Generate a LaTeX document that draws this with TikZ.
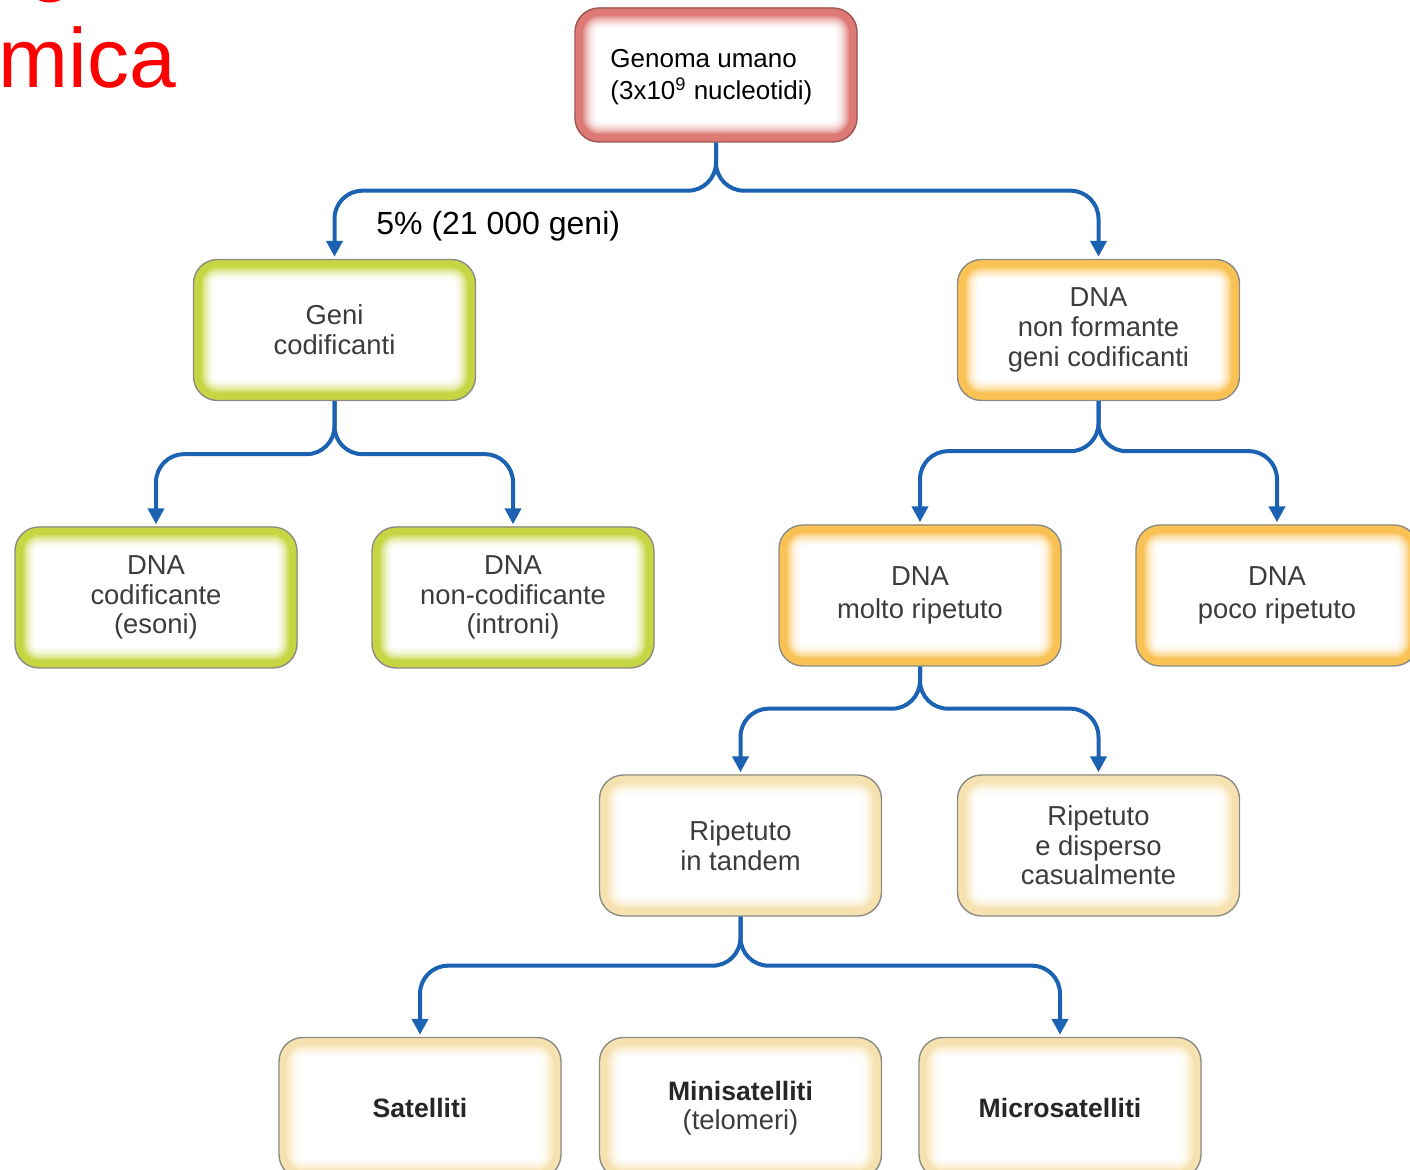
\documentclass[tikz,border=0pt]{standalone}
\usepackage{fontspec}
\setmainfont{Liberation Sans}
\usetikzlibrary{arrows.meta}

\definecolor{linkblue}{RGB}{28,98,178}
\definecolor{rimred}{RGB}{222,122,118}
\definecolor{rimgreen}{RGB}{198,214,66}
\definecolor{rimorange}{RGB}{250,194,84}
\definecolor{rimcream}{RGB}{246,226,176}
\definecolor{edgegray}{RGB}{140,140,132}
\definecolor{labelgray}{RGB}{60,60,60}
\definecolor{titlered}{RGB}{255,0,0}

\newcommand{\boxfont}{\fontsize{13.7pt}{14.8pt}\selectfont}
\newcommand{\wideboxfont}{\fontsize{13.7pt}{16.5pt}\selectfont}
\newcommand{\boldboxfont}{\fontsize{13.3pt}{14.8pt}\selectfont\bfseries}

\begin{document}
\begin{tikzpicture}[x=0.5pt,y=-0.5pt,
  rimlayers/.style={path picture={
    \foreach \i in {0,...,12}{
      \pgfmathsetmacro\w{24-1.6*\i}
      \pgfmathtruncatemacro\s{min(100,(\i/10)^2*100)}
      \draw[#1!\s, line width=\w pt, rounded corners=12pt]
        (path picture bounding box.south west) rectangle (path picture bounding box.north east);}
  }},
  box/.style={rectangle, rounded corners=12pt, draw=edgegray, line width=0.7pt,
    fill=white, minimum width=141pt, minimum height=70.5pt, inner sep=0pt,
    align=center, text=labelgray, font=\boxfont, rimlayers=#1},
  conn/.style={draw=linkblue, line width=2pt, rounded corners=14pt, shorten >=1pt,
    -{Triangle[length=8pt,width=8pt]}},
]
\useasboundingbox (0,0) rectangle (1410,1170);

% heading, partly outside the page
\node[text=titlered, font=\fontsize{42pt}{50pt}\selectfont, anchor=base west, inner sep=0pt] (titleg) at (27,-14) {g};
\node[text=titlered, font=\fontsize{42pt}{50pt}\selectfont, anchor=base west, inner sep=0pt] (title) at (-2,88) {mica};

% level 0: box and its left-aligned caption
\node[box=rimred, draw=rimred!70!black, minimum height=67pt] (genome) at (716,75) {};
\node[anchor=west, inner sep=0pt, align=left, text=black,
  font=\fontsize{13pt}{16pt}\selectfont] (genometext) at (610,77)
  {Genoma umano\\(3x10\textsuperscript{9} nucleotidi)};

% level 1
\node[box=rimgreen] (coding) at (334.5,330) {Geni\\codificanti};
\node[box=rimorange] (noncoding) at (1098.5,330) {DNA\\non formante\\geni codificanti};

% level 2
\node[box=rimgreen] (exons) at (156,597.5) {DNA\\codificante\\(esoni)};
\node[box=rimgreen] (introns) at (513,597.5) {DNA\\non-codificante\\(introni)};
\node[box=rimorange, font=\wideboxfont] (highrep) at (920,595.5) {DNA\\molto ripetuto};
\node[box=rimorange, font=\wideboxfont] (lowrep) at (1277,595.5) {DNA\\poco ripetuto};

% level 3
\node[box=rimcream] (tandem) at (740.5,845.5) {Ripetuto\\in tandem};
\node[box=rimcream] (dispersed) at (1098.5,845.5) {Ripetuto\\e disperso\\casualmente};

% level 4
\node[box=rimcream, text=black!85, font=\boldboxfont] (sat) at (420,1108) {Satelliti};
\node[box=rimcream] (minisat) at (740.5,1108) {\textcolor{black!85}{\boldboxfont Minisatelliti}\\(telomeri)};
\node[box=rimcream, text=black!85, font=\boldboxfont] (microsat) at (1060,1108) {Microsatelliti};

% share label
\node[font=\fontsize{16pt}{19pt}\selectfont, anchor=west, inner sep=0pt] (share) at (376,226) {5\% (21 000 geni)};

% connectors
\draw[conn] (genome.south) -- ++(0,48) -| (coding.north);
\draw[conn] (genome.south) -- ++(0,48) -| (noncoding.north);
\draw[conn] (coding.south) -- ++(0,53) -| (exons.north);
\draw[conn] (coding.south) -- ++(0,53) -| (introns.north);
\draw[conn] (noncoding.south) -- ++(0,50) -| (highrep.north);
\draw[conn] (noncoding.south) -- ++(0,50) -| (lowrep.north);
\draw[conn] (highrep.south) -- ++(0,42) -| (tandem.north);
\draw[conn] (highrep.south) -- ++(0,42) -| (dispersed.north);
\draw[conn] (tandem.south) -- ++(0,49) -| (sat.north);
\draw[conn] (tandem.south) -- ++(0,49) -| (microsat.north);
\end{tikzpicture}
\end{document}
